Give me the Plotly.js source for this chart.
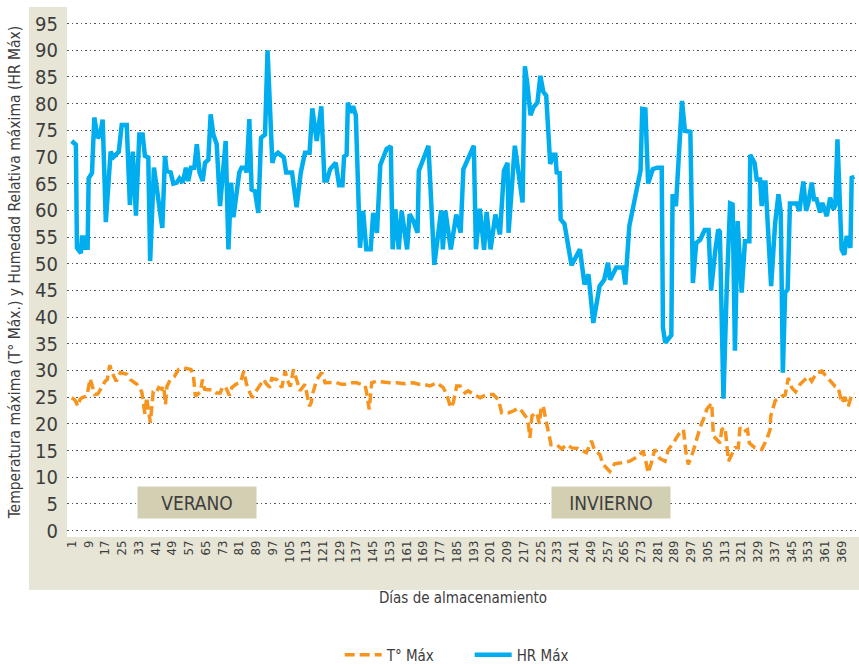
<!DOCTYPE html>
<html>
<head>
<meta charset="utf-8">
<script src="https://cdn.plot.ly/plotly-3.0.1.min.js"></script>
<style>html,body{margin:0;padding:0;background:#fff;}#chart{width:859px;height:665px;}</style>
</head>
<body>
<div id="chart"></div>
<script>
// ---- Data ----
const xTickVals = [1,9,17,25,33,41,49,57,65,73,81,89,97,105,113,121,129,137,145,153,161,169,177,185,193,201,209,217,225,233,241,249,257,265,273,281,289,297,305,313,321,329,337,345,353,361,369];
const xTickText = ["1","9","17","25","33","41","49","57","65","73","81","89","97","105","113","121","129","137","145","153","161","169","177","185","193","201","209","217","225","233","241","249","257","265","273","281","289","297","305","313","321","329","337","345","353","361","369"];
const yTickVals = [0,5,10,15,20,25,30,35,40,45,50,55,60,65,70,75,80,85,90,95];

// HR Máx (humedad relativa máxima) - vertices
const hrDays = [1,3,3.5,5.4,5.9,6.7,7.5,8.6,9.1,10.7,11.8,13.4,14.5,15.8,17.3,19.6,21,23.5,24.9,27.3,28.8,30.2,31.7,33.3,34.9,36,37.6,38.5,40.3,44.3,45.6,46.4,48.3,49.6,51.2,52.5,54.1,55.6,56.7,58,59.6,60.8,62.1,63.6,64.7,66.3,67.4,68.7,70.3,71.9,74.6,75.9,77.2,78.3,81.1,82.2,83.8,84.6,85.9,87,88.6,90.2,91.5,93.4,94.6,96.9,97.9,99.6,102.4,103.5,106.3,108.5,110.5,112.5,114.7,116,118.1,120.3,121.8,123,124.5,127.2,128.8,130.4,131.2,132.4,133,134.4,135.5,136.8,138.8,140.3,141.8,143.9,145.1,146.9,148.5,151.5,153.5,154.4,155.7,157.3,158.7,161.3,162.5,164.3,166.3,166.9,171.5,174.3,177.6,178.4,179.6,182.2,184.8,186.9,188.2,190.6,193.2,194.2,196.1,198.1,199.3,201.2,203.5,205.7,207.6,209.3,209.8,212.8,216.5,217.6,218.7,220.3,221.7,223.6,225,226.4,227.8,228.5,229.7,231.2,232.2,232.8,234.2,234.7,236.5,239.9,243.9,246.1,248,250.3,253.3,255.5,257.3,258.3,261.3,264.5,265.6,267.5,270.7,272.9,273.7,275.2,276.5,278.7,280.8,283,283.6,284.7,287.6,288.2,289.8,292.7,294.1,296.7,297.9,299.5,301.4,303.5,305.4,306.6,308.5,310,310.8,312.5,314.1,315.7,316.9,318,319.3,321.2,322.8,324.9,325.3,327.4,328.4,330,330.8,331.9,332.6,333.3,335.3,337.2,338.8,339.9,340.9,342,343.2,344.3,347.5,348.8,350.7,352,353.1,354.7,355.8,357,358.7,359.8,361.9,363.5,365.1,366,367,369,370.3,371.4,373.2,373.8,375.1];
const hrVals = [73,72.3,53,52,54.9,54.9,53,53,66,67,77.4,73.6,74,77,57.8,71,70,71,76,76,61,71,59,74.2,74.2,70.2,69.9,50.5,68,56.7,70.2,67.4,67.1,65,65.2,66,65.2,68,65.5,68,68,72.4,67.1,65.5,68.9,69.5,78,74.2,72.4,60.8,73,52.7,65.2,58.7,67.1,68,68,67.1,77.1,63.9,63.6,59.5,73.6,74.2,90,68.9,70.2,70.8,69.9,67.1,67.1,60.6,67.1,70.8,70.8,79.1,73,79.5,65.6,65.6,67.7,68.9,64.7,64.7,70.1,70.4,80.2,78.3,79.5,77.8,53,59.9,52.7,52.7,59.5,55.8,68.5,71.5,72,52.7,60.2,52.7,59.9,52.7,59.3,58,55.8,67.4,72.1,49.8,60,52.7,59.9,52.7,59.2,55.8,67.7,69.9,72.1,52.7,60.3,52.6,59.7,52.7,59.2,55.5,67.4,68.9,55.8,72.1,61.5,87,83.9,77.8,79.3,80.2,85.2,82.2,81.5,76.7,68.7,70.4,70.4,67.1,67,58.3,57.5,49.7,52.7,46.1,48,38.9,45.8,47,50.2,47,49.3,49.3,46.1,57,63.8,67.5,79,78.9,65,67.7,68,68,38,35.2,36.6,63,60.8,80.5,74.9,74.7,46.4,53.9,54.5,56.3,56.3,45,52.1,56.4,56,24.7,45.5,61.3,61.1,33.7,58,44.6,54.2,54.2,70.4,68.9,65.8,65.8,60.8,65.2,65.2,60.8,45.8,57.5,63,59.6,29.6,44.6,45.2,61.3,61.3,59.9,65.4,59.9,61.4,65.2,62.1,62.1,59.6,61.4,58.9,62.4,60.2,61,73.3,52.7,51.7,55.2,53,66.1,66.3];

// T° Máx (temperatura máxima) - vertices
const tDays = [1,2.5,4,5,6,8.3,9.8,11,12,13.5,15.5,17,18,19.2,20.3,22.3,24.2,27.4,29,32.2,34.5,35.6,36,36.8,37.5,38.6,39.9,41,42.6,44,45,45.8,46.5,48.1,50,52.1,54.5,58,59.1,60.1,61.1,62.5,63.5,64.5,66,68,70,72,73,74.4,76.4,77.5,79.8,81.6,83.3,84.5,86.2,87.3,88.5,90.4,92.8,94,95.8,96.6,99,101.4,103,104,105.5,107,108.5,110.1,112.5,114.1,114.6,115.5,116.3,118.1,120.5,122.1,125,127,130,132.5,135,137.2,141.2,142,143.2,144.4,146.8,150,153,156.3,160,164.3,167,169.1,172.3,175.5,178.6,180.2,182.2,183.4,185,186.6,189,190.5,193,196.2,199.4,202.5,205,206.5,210,212.1,214.5,216.1,217.7,219,220,221,223.3,224.5,225.5,226.4,227.5,228.7,230.1,232.8,235.2,237.6,240,243,245,247,249.4,251,253.4,255,258.2,260.5,263.7,267.7,271.7,274.1,275.4,276.5,278.1,279.7,282.1,284.6,286.2,288.6,291,293.4,294.6,295.7,298.1,299.7,301.3,303.2,304.5,306.9,307.4,307.7,310.9,311.7,313.3,314.9,318,319.6,320.4,322,324,324.9,327.6,330.8,333.2,334.8,335.1,337.2,338,340.4,342,343.5,345.1,347,349.1,351.5,353.1,354.7,357.1,359.5,361.9,363.5,365.9,367.4,369,370.5,372.2,373.8,375];
const tVals = [24.9,24.5,23.3,24.6,24.9,25.2,28.5,26.5,25.5,25.6,26.8,28,28.3,31,29.6,28,29.6,29.3,28.3,27.4,26,23.5,21.8,25,23,20.2,25.8,25.5,26.8,26.5,27.1,23.6,27,28.3,28.8,30.2,30.5,30.2,29.3,25.2,25.5,26,28.3,26.5,26.4,26.4,25.8,25.8,26.8,27,25.3,26.8,27.5,27.7,29.9,27.5,25.8,24.9,25.8,26.8,28.3,27.5,26.8,28.5,28.3,26.8,29.9,28.3,27,30.2,28,26.2,27.4,24.5,23.3,24,25.8,28.3,29.6,27.7,27.7,27.8,27.4,27.4,27.7,27.7,27.2,25.8,22.7,27.7,28,27.8,27.7,27.7,27.5,27.7,27.4,27.4,27.1,27.7,26.8,25.5,23,24,27.1,27.1,25.8,26.2,25.5,24.9,25.5,25.5,24.5,22.1,22.1,22.4,23,22.4,21.4,20.8,17.4,21.5,22.1,20,23.3,23.3,21,18.3,16.1,16.1,15.3,16.1,15.5,15.4,15,14.6,16.8,15,14.3,12.4,11.1,12.5,12.7,13,13.9,14.9,13,10.8,12.7,15.2,13.5,13,15.2,16.4,18,18.9,14.6,12.4,14.9,17.4,19.3,21.1,22.7,23.9,20.8,17.7,16.4,18.9,19.3,13,15.5,15.5,19.3,18.5,18.9,16.4,15.5,15.2,17.1,18.9,21.4,24.3,24.6,25.2,25.4,28.6,26.8,26,27.4,28.3,28.9,28,29.6,29.9,28.9,28,27,26.8,23.9,25,23.3,25.5,25.8];

const seasonLabels = ["VERANO", "INVIERNO"];
const seasonX = [60.9, 258.8];
const seasonY = [5.3, 5.3];

// ---- Styling ----
const FONT = "'DejaVu Sans Condensed', 'Liberation Sans Narrow', Roboto, sans-serif";
const TXT = "#3d3d3d";
const PANEL = "#e7e5d6";
const BOX = "#d3cfb3";

const traces = [
  {
    x: tDays, y: tVals, type: "scatter", mode: "lines", name: "T° Máx",
    line: {color: "#f7941d", width: 3.5, dash: "10px,5px"}
  },
  {
    x: hrDays, y: hrVals, type: "scatter", mode: "lines", name: "HR Máx",
    line: {color: "#00aeef", width: 4.5}
  }
];

const annotations = seasonLabels.map((t, i) => ({
  x: seasonX[i], y: seasonY[i], xref: "x", yref: "y",
  text: t, showarrow: false,
  font: {family: FONT, size: 19, color: TXT},
  bgcolor: BOX, width: 118, height: 31, borderpad: 0,
  xanchor: "center", yanchor: "middle", valign: "middle"
}));

const layout = {
  width: 859, height: 665,
  margin: {l: 67, r: 0, t: 7, b: 128},
  paper_bgcolor: "#ffffff",
  plot_bgcolor: "#ffffff",
  showlegend: true,
  font: {family: FONT, color: TXT},
  shapes: [
    {type: "rect", xref: "paper", yref: "paper", x0: -0.048, x1: 1, y0: -0.1, y1: 1.0,
     fillcolor: PANEL, line: {width: 0}, layer: "below"},
    {type: "rect", xref: "paper", yref: "paper", x0: 0, x1: 1, y0: 0, y1: 1,
     fillcolor: "#ffffff", line: {width: 0}, layer: "below"}
  ],
  xaxis: {
    range: [-1.25, 377.3],
    tickmode: "array", tickvals: xTickVals, ticktext: xTickText,
    tickangle: -90, showgrid: false, zeroline: false, showline: false,
    ticks: "", ticklen: 0,
    tickfont: {family: FONT, size: 13, color: TXT},
    title: {text: "Días de almacenamiento", font: {family: FONT, size: 15, color: TXT}, standoff: 30},
    automargin: false
  },
  yaxis: {
    range: [-1.2, 98.1],
    tickmode: "array", tickvals: yTickVals,
    showgrid: true, gridcolor: "#555555", gridwidth: 1, griddash: "1.5px,3px",
    zeroline: false, showline: false, ticks: "", ticklabelstandoff: 8,
    tickfont: {family: FONT, size: 20, color: TXT},
    title: {text: "Temperatura máxima (T° Máx.) y Humedad Relativa máxima (HR Máx)", font: {family: FONT, size: 15.5, color: TXT}, standoff: 10},
    automargin: false
  },
  legend: {
    orientation: "h", xref: "paper", x: 0.3443, xanchor: "left",
    yref: "container", y: 0.015, yanchor: "middle",
    font: {family: FONT, size: 15, color: TXT}, itemwidth: 37,
    entrywidth: 78, entrywidthmode: "pixels",
    bgcolor: "rgba(0,0,0,0)"
  },
  annotations: annotations,
  hovermode: false
};

Plotly.newPlot("chart", traces, layout, {staticPlot: true, displayModeBar: false});
</script>
</body>
</html>
